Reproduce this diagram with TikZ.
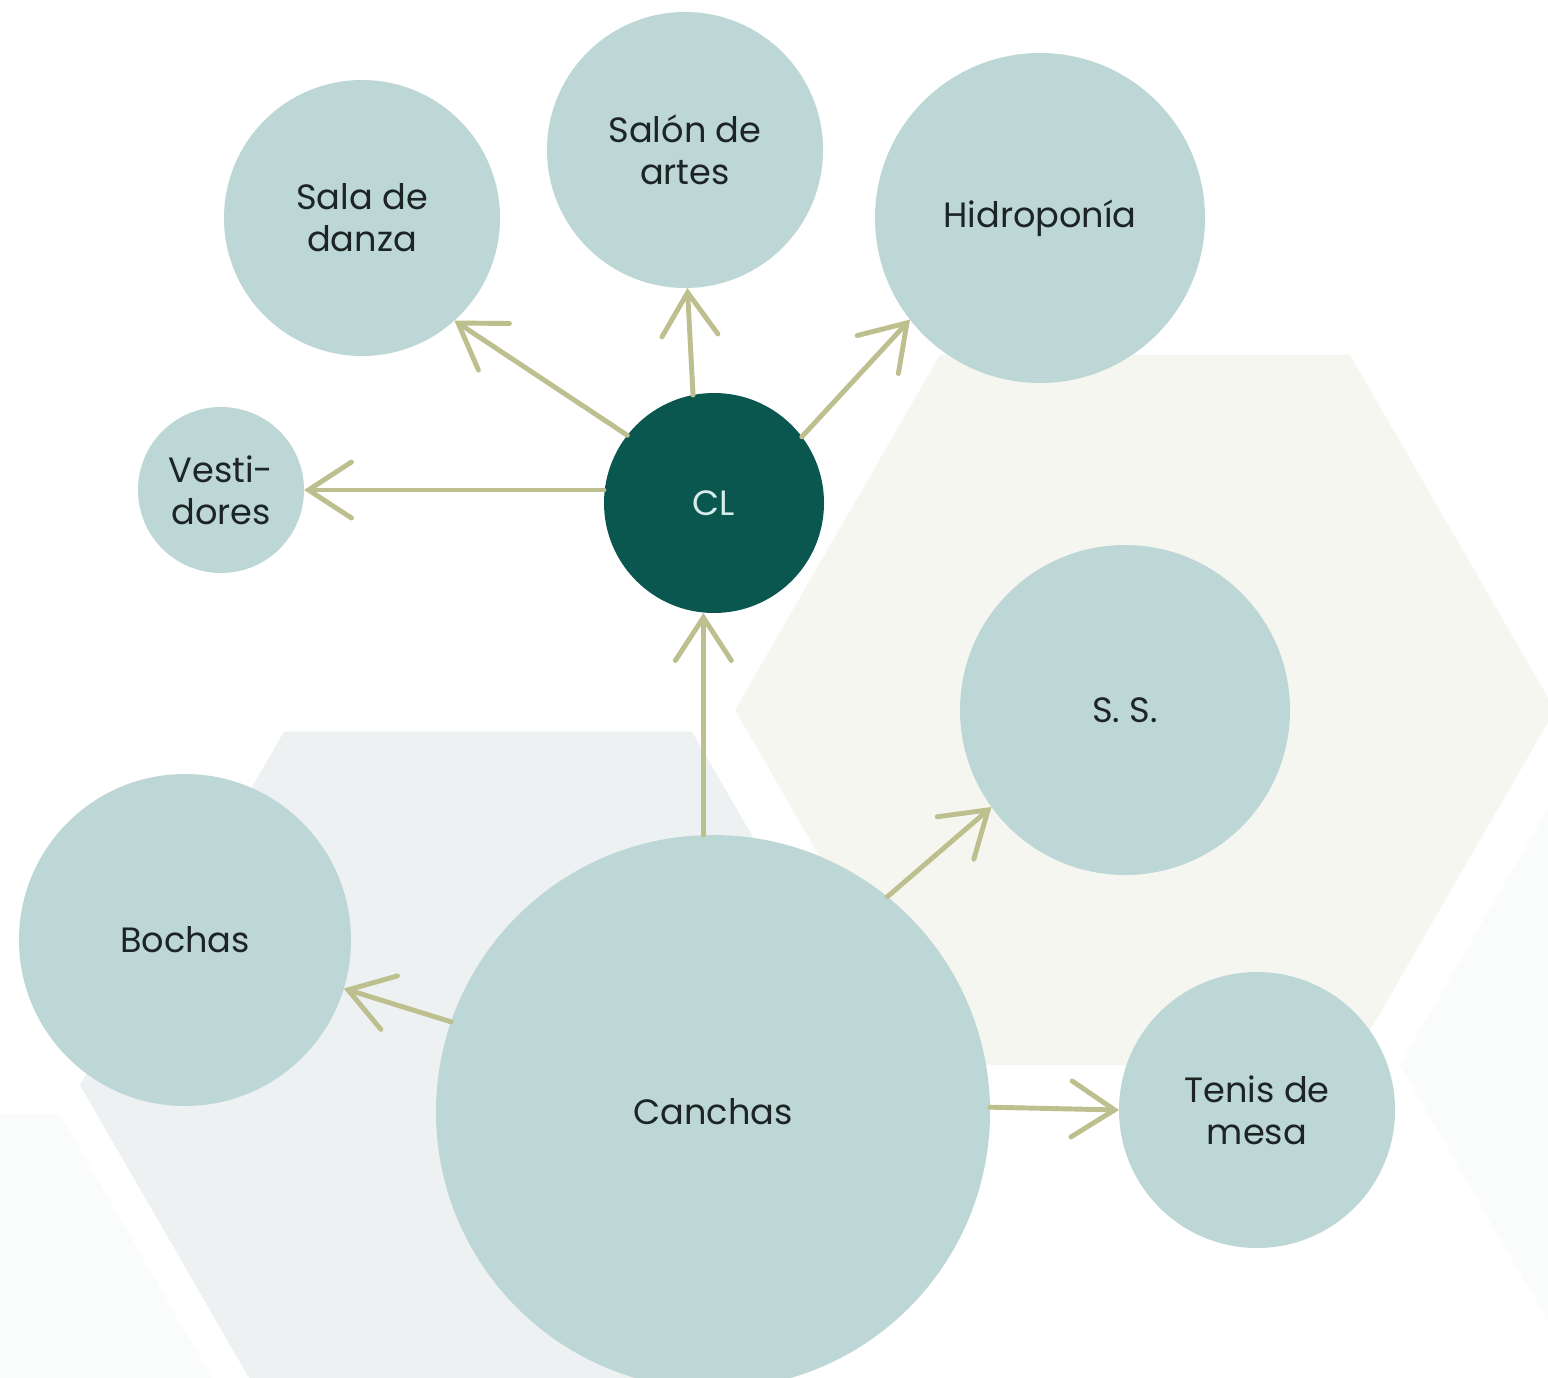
\documentclass[tikz,border=0pt]{standalone}
\usepackage{fontspec}
\setmainfont{Poppins}
\usepackage{xcolor}
\usepackage{tikz}
\usetikzlibrary{arrows.meta}

\definecolor{bubblefill}{RGB}{189,215,214}
\definecolor{corefill}{RGB}{10,87,80}
\definecolor{corefont}{RGB}{214,236,234}
\definecolor{link}{RGB}{190,191,142}
\definecolor{ink}{RGB}{28,36,36}
\definecolor{hexbeige}{RGB}{246,246,241}
\definecolor{hexgray}{RGB}{237,241,242}
\definecolor{hexpale}{RGB}{250,251,251}

\tikzset{
  bubble/.style={circle, fill=bubblefill, text=ink, inner sep=0pt, outer sep=0pt,
    align=center, font=\fontsize{10}{12}\selectfont},
  arr/.style={draw=link, line width=1.4pt, line cap=round,
    -{Straight Barb[length=4.3mm, width=5.6mm, line cap=round]}}
}

\begin{document}
\begin{tikzpicture}
  \useasboundingbox (0,0) rectangle (15.48,-13.77);
  \clip (0,0) rectangle (15.48,-13.77);
  \fill[white] (0,0) rectangle (15.48,-13.77);
  % background hexagons
  \fill[hexbeige] (11.45,-7.10) +(0:4.1) -- +(60:4.1) -- +(120:4.1)
    -- +(180:4.1) -- +(240:4.1) -- +(300:4.1) -- cycle;
  \fill[hexgray] (4.88,-10.85) +(0:4.08) -- +(60:4.08) -- +(120:4.08)
    -- +(180:4.08) -- +(240:4.08) -- +(300:4.08) -- cycle;
  \fill[hexpale] (-1.44,-14.68) +(0:4.08) -- +(60:4.08) -- +(120:4.08)
    -- +(180:4.08) -- +(240:4.08) -- +(300:4.08) -- cycle;
  \fill[hexpale] (18.08,-10.65) +(0:4.08) -- +(60:4.08) -- +(120:4.08)
    -- +(180:4.08) -- +(240:4.08) -- +(300:4.08) -- cycle;
  % circles
  \node[bubble, minimum size=2.76cm] (sala) at (3.62,-2.18) {Sala de\\danza};
  \node[bubble, minimum size=2.76cm] (salon) at (6.85,-1.50) {Salón de\\artes};
  \node[bubble, minimum size=3.30cm] (hidro) at (10.40,-2.18) {Hidroponía};
  \node[bubble, minimum size=1.66cm] (vest) at (2.21,-4.90) {Vesti-\\dores};
  \node[bubble, fill=corefill, text=corefont, minimum size=2.20cm] (cl) at (7.14,-5.03) {CL};
  \node[bubble, minimum size=3.30cm] (ss) at (11.25,-7.10) {S. S.};
  \node[bubble, minimum size=3.32cm] (bochas) at (1.85,-9.40) {Bochas};
  \node[bubble, minimum size=5.54cm] (canch) at (7.13,-11.12) {Canchas};
  \node[bubble, minimum size=2.76cm] (tenis) at (12.57,-11.10) {Tenis de\\mesa};
  % links
  \draw[arr] (cl.west |- vest.east) -- (vest.east);
  \draw[arr] (cl.142) -- (sala.-48);
  \draw[arr] (cl.101) -- (salon.-89);
  \draw[arr] (cl.37) -- (hidro.218);
  \draw[arr] (canch.92) -- (canch.92 |- cl.south);
  \draw[arr] (canch.161) -- (bochas.-17);
  \draw[arr] (canch.51) -- (ss.216);
  \draw[arr] (canch.1) -- (tenis.180);
\end{tikzpicture}
\end{document}
